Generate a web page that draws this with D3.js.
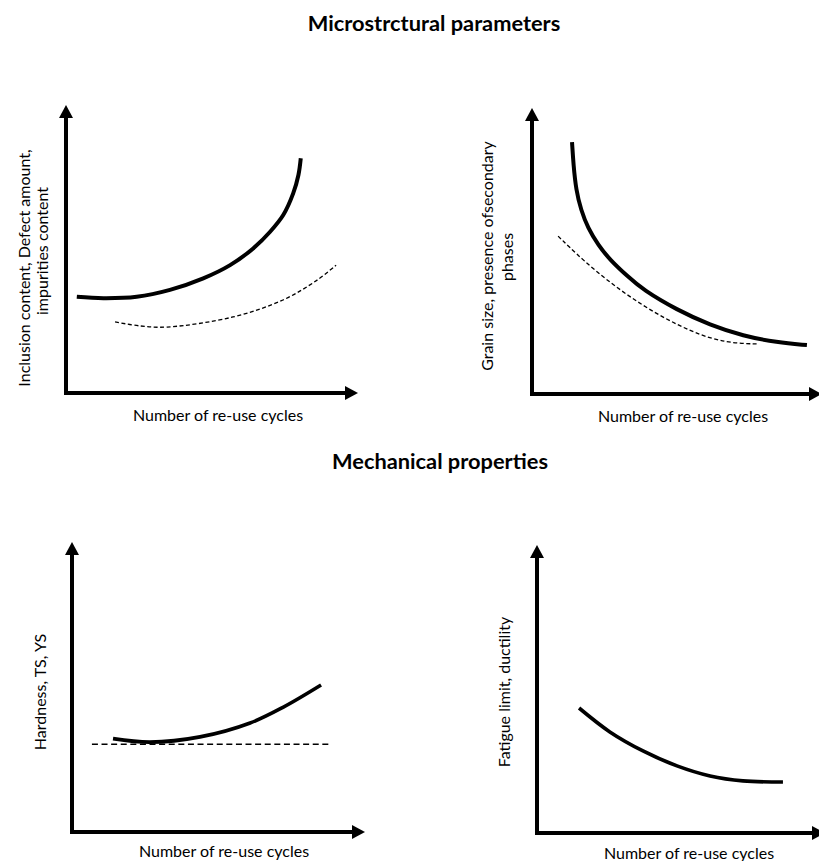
<!DOCTYPE html>
<html><head><meta charset="utf-8">
<script src="https://cdn.jsdelivr.net/npm/d3@7"></script>
<style>
body{margin:0;background:#fff}
svg{display:block}
text{font-family:Lato,"Open Sans",sans-serif;fill:#000}
</style>
</head><body>
<svg id="c" width="819" height="861"></svg>
<script>
// ---------- text ----------
const titles = ["Microstrctural parameters", "Mechanical properties"];
const xLabels = ["Number of re-use cycles", "Number of re-use cycles", "Number of re-use cycles", "Number of re-use cycles"];
const yLabels = [
  ["Inclusion content, Defect amount,", "impurities content"],
  ["Grain size, presence ofsecondary", "phases"],
  ["Hardness, TS, YS"],
  ["Fatigue limit, ductility"]
];

// ---------- data (relative units, 0-100 along each axis) ----------
const p1SolidX  = [3.7, 12.8, 24.2, 35.6, 47.0, 56.2, 64.1, 69.9, 74.4, 77.8, 79.6, 80.4];
const p1SolidY  = [33.4, 32.9, 33.4, 35.8, 39.8, 44.4, 50.2, 56.0, 61.8, 69.3, 75.7, 81.5];
const p1DashX   = [16.8, 25.3, 34.6, 57.2, 74.3, 86.0, 92.5];
const p1DashY   = [24.7, 23.3, 22.9, 26.4, 32.3, 39.2, 44.4];

const p2SolidX  = [13.8, 14.3, 15.2, 16.9, 19.3, 22.8, 26.9, 32.8, 38.3, 50.0, 61.4, 72.8, 84.5, 94.8];
const p2SolidY  = [88.1, 80.1, 71.3, 64.3, 58.0, 52.1, 46.9, 41.3, 36.4, 29.4, 24.1, 20.3, 18.0, 17.1];
const p2DashX   = [9.0, 21.0, 38.3, 55.5, 67.2, 77.9];
const p2DashY   = [55.2, 43.4, 30.4, 21.3, 17.8, 17.5];

const p3SolidX  = [14.0, 26.6, 43.7, 60.8, 72.0, 85.0];
const p3SolidY  = [32.2, 31.0, 32.8, 37.6, 43.0, 50.7];
const p3DashX   = [6.8, 88.1];
const p3DashY   = [30.3, 30.3];

const p4SolidX  = [14.6, 25.3, 36.8, 48.6, 60.1, 71.5, 85.4];
const p4SolidY  = [43.4, 35.1, 28.5, 23.3, 19.8, 18.1, 17.7];

const zip = (xs, ys) => xs.map((x, i) => ({x, y: ys[i]}));

// ---------- layout ----------
const panels = [
  {ox: 66,  oy: 393, xt: 358, yt: 105, solid: zip(p1SolidX, p1SolidY), dash: zip(p1DashX, p1DashY), sw: 4, dsw: 1.3, da: "4,2.5",
   curve: d3.curveCatmullRom.alpha(0.5), xl: {x: 218, y: 421}, yl: [{x: 29.5, y: 268}, {x: 48, y: 251}]},
  {ox: 532, oy: 394, xt: 822, yt: 108, solid: zip(p2SolidX, p2SolidY), dash: zip(p2DashX, p2DashY), sw: 4, dsw: 1.3, da: "4,2.5",
   curve: d3.curveBasis, xl: {x: 683, y: 422}, yl: [{x: 493, y: 256}, {x: 513, y: 257}]},
  {ox: 72,  oy: 832, xt: 365, yt: 542, solid: zip(p3SolidX, p3SolidY), dash: zip(p3DashX, p3DashY), sw: 3.6, dsw: 1.5, da: "6,3.6",
   curve: d3.curveCatmullRom.alpha(0.5), xl: {x: 224, y: 857}, yl: [{x: 46, y: 692}]},
  {ox: 537, oy: 833, xt: 825, yt: 545, solid: zip(p4SolidX, p4SolidY), dash: null, sw: 3.6,
   curve: d3.curveCatmullRom.alpha(0.5), xl: {x: 689, y: 859}, yl: [{x: 510, y: 692}]}
];

const svg = d3.select("#c");

svg.append("text").attr("x", 434).attr("y", 31).attr("text-anchor", "middle")
  .style("font-size", "21.8px").style("font-weight", "bold").text(titles[0]);
svg.append("text").attr("x", 440).attr("y", 469).attr("text-anchor", "middle")
  .style("font-size", "21.8px").style("font-weight", "bold").text(titles[1]);

const AH = 13, AW = 7, AXW = 4;

panels.forEach((p, i) => {
  const g = svg.append("g");
  const x = d3.scaleLinear().domain([0, 100]).range([p.ox, p.xt]);
  const y = d3.scaleLinear().domain([0, 100]).range([p.oy, p.yt]);

  // axes
  const [x0, x1] = x.range();
  const [y0, y1] = y.range();
  g.append("line").attr("x1", x0 - AXW / 2).attr("x2", x1 - AH + 1).attr("y1", y0).attr("y2", y0)
    .attr("stroke", "#000").attr("stroke-width", AXW);
  g.append("line").attr("x1", x0).attr("x2", x0).attr("y1", y0 + AXW / 2).attr("y2", y1 + AH - 1)
    .attr("stroke", "#000").attr("stroke-width", AXW);
  g.append("path").attr("d", `M${x1},${y0}L${x1 - AH},${y0 - AW}L${x1 - AH},${y0 + AW}Z`).attr("fill", "#000");
  g.append("path").attr("d", `M${x0},${y1}L${x0 - AW},${y1 + AH}L${x0 + AW},${y1 + AH}Z`).attr("fill", "#000");

  const line = d3.line().x(d => x(d.x)).y(d => y(d.y)).curve(p.curve);

  if (p.dash) {
    g.append("path").datum(p.dash).attr("d", line).attr("fill", "none")
      .attr("stroke", "#000").attr("stroke-width", p.dsw).attr("stroke-dasharray", p.da);
  }
  g.append("path").datum(p.solid).attr("d", line).attr("fill", "none")
    .attr("stroke", "#000").attr("stroke-width", p.sw);

  // labels
  g.append("text").attr("x", p.xl.x).attr("y", p.xl.y).attr("text-anchor", "middle")
    .style("font-size", "16px").text(xLabels[i]);
  yLabels[i].forEach((t, j) => {
    g.append("text").attr("transform", `translate(${p.yl[j].x},${p.yl[j].y}) rotate(-90)`)
      .attr("text-anchor", "middle").style("font-size", "16px").text(t);
  });
});
</script>
</body></html>
